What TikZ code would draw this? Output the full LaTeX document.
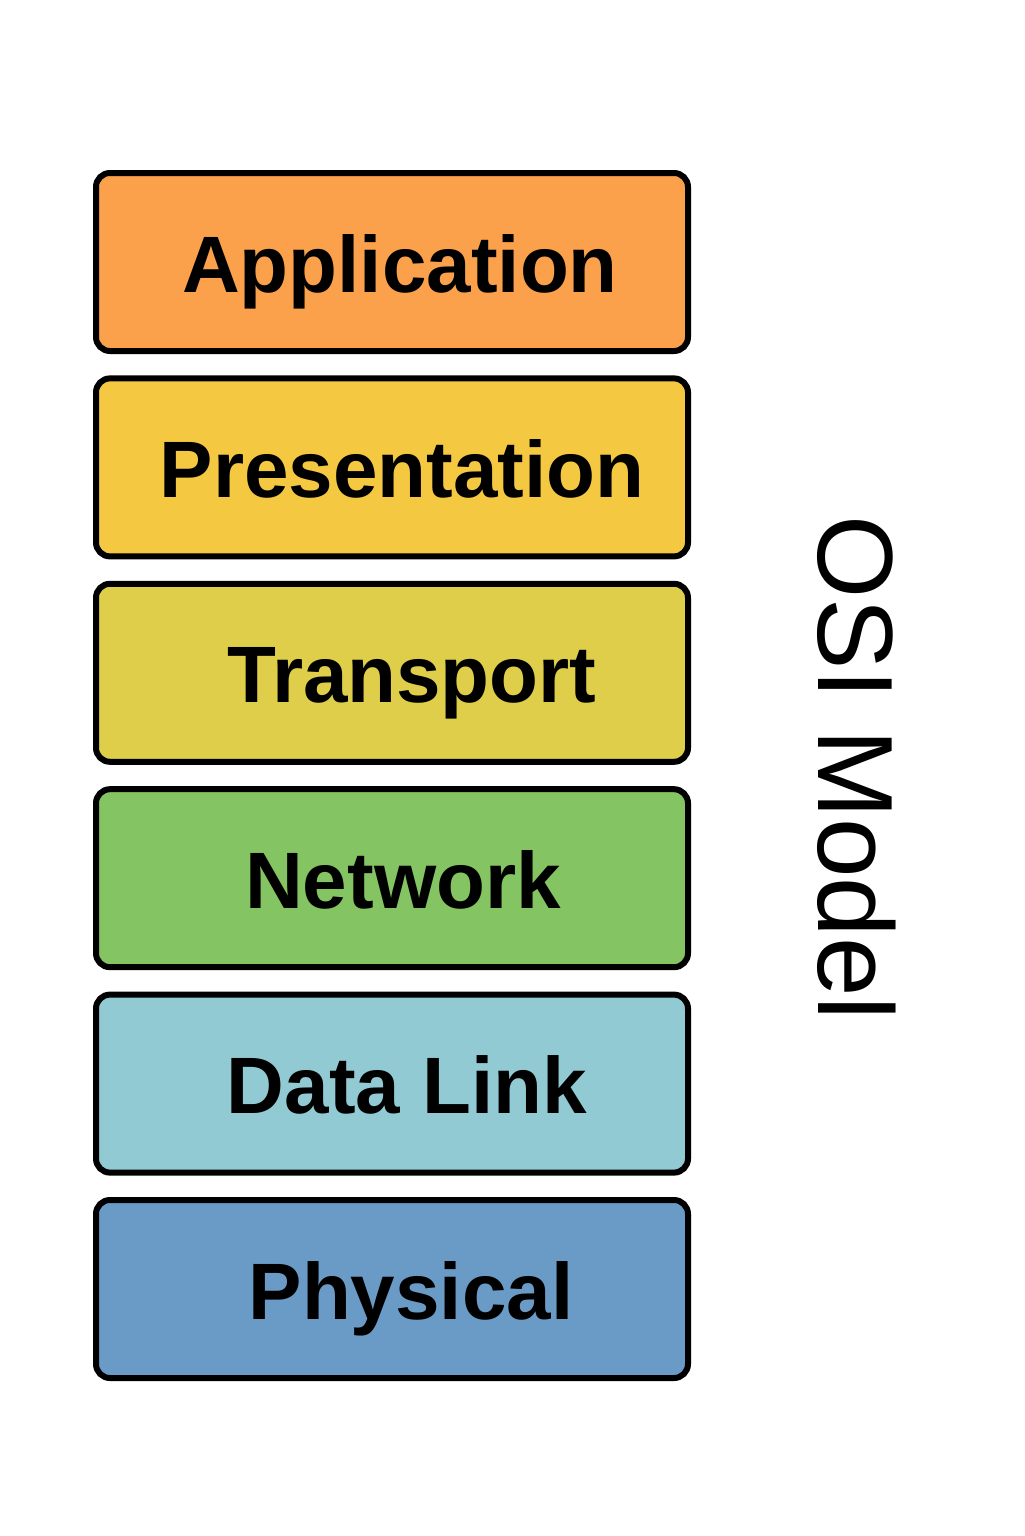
\documentclass[tikz,border=0pt]{standalone}
\usepackage{fontspec}
\setmainfont{Liberation Sans}
\usepackage{tikz}
\usetikzlibrary{positioning}

\definecolor{appcol}{RGB}{251,160,75}
\definecolor{prescol}{RGB}{245,200,66}
\definecolor{transcol}{RGB}{223,206,74}
\definecolor{netcol}{RGB}{133,196,98}
\definecolor{linkcol}{RGB}{146,202,212}
\definecolor{physcol}{RGB}{106,155,198}

\begin{document}
\begin{tikzpicture}[x=0.5pt, y=-0.5pt,
  every layer/.style={draw=black, line width=3pt, rounded corners=7pt,
    minimum width=296pt, minimum height=89pt, inner sep=0pt},
  every label/.style={font=\bfseries\fontsize{40}{48}\selectfont, inner sep=0pt, anchor=base}]

\useasboundingbox (0,0) rectangle (1024,1536);

\foreach \m/\c [count=\y from 0] in {Application/appcol,Presentation/prescol,Transport/transcol,Network/netcol,Data Link/linkcol,Physical/physcol}
  \node [every layer/.try, fill=\c] (layer-\y) at (392,262+\y*205.4) {};

\foreach \m/\dx [count=\y from 0] in {Application/8,Presentation/10,Transport/20,Network/11,Data Link/15,Physical/19}
  \node [every label/.try, xshift=\dx*0.5pt, yshift=-15pt] (label-\y) at (layer-\y.center) {\m};

\node [rotate=-90, inner sep=0pt, font=\fontsize{53.5}{60}\selectfont] (title) at (857,768) {OSI Model};

\end{tikzpicture}
\end{document}
